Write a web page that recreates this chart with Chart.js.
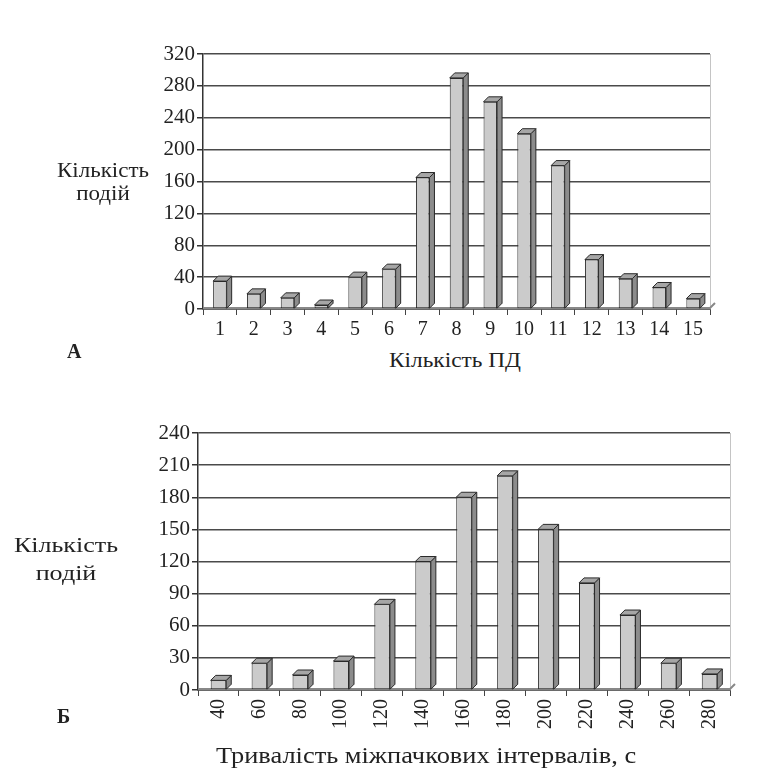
<!DOCTYPE html>
<html>
<head>
<meta charset="utf-8">
<script src="https://cdn.jsdelivr.net/npm/chart.js@4/dist/chart.umd.min.js"></script>
<style>
  html, body { margin: 0; padding: 0; background: #fff; }
  body { width: 766px; height: 775px; position: relative; overflow: hidden;
         font-family: "Liberation Serif", "DejaVu Serif", serif; color: #222; }
  .wrap { position: absolute; left: 0; width: 766px; }
  .lbl { position: absolute; white-space: nowrap; }
  .ytitle { text-align: center; }
  .letter { font-weight: bold; font-size: 20px; line-height: 20px; }
  .xtitle { text-align: center; }
</style>
</head>
<body>
<div class="wrap" style="top:0;height:345px;"><canvas id="chartA"></canvas></div>
<div class="wrap" style="top:380px;height:395px;"><canvas id="chartB"></canvas></div>

<div class="lbl ytitle" style="left:43px;top:159px;width:120px;font-size:20px;line-height:23px;transform:scaleX(1.15);">Кількість<br>подій</div>
<div class="lbl letter" style="left:67px;top:341px;">А</div>
<div class="lbl xtitle" style="left:355px;top:350px;width:200px;font-size:21px;line-height:21px;transform:scaleX(1.11);">Кількість ПД</div>

<div class="lbl ytitle" style="left:6px;top:531px;width:120px;font-size:21px;line-height:28px;transform:scaleX(1.24);">Кількість<br>подій</div>
<div class="lbl letter" style="left:57px;top:706px;">Б</div>
<div class="lbl xtitle" style="left:176px;top:743px;width:500px;font-size:24px;line-height:24px;transform:scaleX(1.1);">Тривалість міжпачкових інтервалів, с</div>

<script>
// Panel A: number of events by number of action potentials
const spikeCounts = ['1','2','3','4','5','6','7','8','9','10','11','12','13','14','15'];
const eventsA = [35, 19, 14, 5, 40, 50, 165, 290, 260, 220, 180, 62, 38, 27, 13];
const ticksA = [0, 40, 80, 120, 160, 200, 240, 280, 320];

// Panel B: number of events by inter-burst interval duration, s
const intervals = ['40','60','80','100','120','140','160','180','200','220','240','260','280'];
const eventsB = [9, 25, 14, 27, 80, 120, 180, 200, 150, 100, 70, 25, 15];
const ticksB = [0, 30, 60, 90, 120, 150, 180, 210, 240];

const FONT = '"Liberation Serif", "DejaVu Serif", serif';
const DEPTH = 5;

// Adds the side and top faces to each bar so the columns look like boxes
const boxFaces = {
  id: 'boxFaces',
  beforeDatasetsDraw(chart) {
    const { ctx, chartArea } = chart;
    ctx.save();
    ctx.strokeStyle = '#c4c4c4';
    ctx.lineWidth = 1;
    ctx.beginPath();
    ctx.moveTo(chartArea.right + 0.5, chartArea.top);
    ctx.lineTo(chartArea.right + 0.5, chartArea.bottom);
    ctx.stroke();
    // floor edge
    ctx.strokeStyle = '#888';
    ctx.lineWidth = 2;
    ctx.beginPath();
    ctx.moveTo(chartArea.left, chartArea.bottom - 1);
    ctx.lineTo(chartArea.right, chartArea.bottom - 1);
    ctx.lineTo(chartArea.right + DEPTH, chartArea.bottom - DEPTH - 1);
    ctx.stroke();
    ctx.restore();
  },
  afterDatasetsDraw(chart) {
    const { ctx } = chart;
    const meta = chart.getDatasetMeta(0);
    ctx.save();
    ctx.lineWidth = 1;
    ctx.strokeStyle = '#2a2a2a';
    ctx.lineJoin = 'round';
    meta.data.forEach(bar => {
      const p = bar.getProps(['x', 'y', 'base', 'width'], true);
      const l = p.x - p.width / 2, r = p.x + p.width / 2;
      const t = p.y, b = p.base;
      // side face
      ctx.fillStyle = '#8c8c8c';
      ctx.beginPath();
      ctx.moveTo(r, t);
      ctx.lineTo(r + DEPTH, t - DEPTH);
      ctx.lineTo(r + DEPTH, b - DEPTH);
      ctx.lineTo(r, b);
      ctx.closePath();
      ctx.fill(); ctx.stroke();
      // top face
      ctx.fillStyle = '#a6a6a6';
      ctx.beginPath();
      ctx.moveTo(l, t);
      ctx.lineTo(l + DEPTH, t - DEPTH);
      ctx.lineTo(r + DEPTH, t - DEPTH);
      ctx.lineTo(r, t);
      ctx.closePath();
      ctx.fill(); ctx.stroke();
    });
    ctx.restore();
  }
};

function makeChart(id, labels, values, ticks, opt) {
  return new Chart(document.getElementById(id), {
    type: 'bar',
    data: {
      labels: labels,
      datasets: [{
        data: values,
        backgroundColor: '#cbcbcb',
        borderColor: '#2a2a2a',
        borderWidth: 1,
        borderSkipped: false,
        barPercentage: opt.barPct,
        categoryPercentage: 1
      }]
    },
    options: {
      responsive: true,
      maintainAspectRatio: false,
      animation: false,
      layout: { padding: { top: opt.top, right: opt.right, left: 0, bottom: 0 } },
      plugins: { legend: { display: false }, tooltip: { enabled: false } },
      scales: {
        x: {
          offset: true,
          grid: { offset: true, drawOnChartArea: false, drawTicks: true, tickLength: 6,
                  color: '#444', lineWidth: 1 },
          border: { color: '#333', width: 1.5 },
          ticks: { color: '#222', font: { family: FONT, size: opt.xFont },
                   minRotation: opt.rot, maxRotation: opt.rot, padding: 3, autoSkip: false },
          afterFit(s) { s.height = opt.xHeight; }
        },
        y: {
          min: ticks[0], max: ticks[ticks.length - 1],
          afterBuildTicks(s) { s.ticks = ticks.map(v => ({ value: v })); },
          grid: { color: '#4a4a4a', lineWidth: 1.5, tickLength: 6, tickColor: '#333' },
          border: { color: '#333', width: 1.5 },
          ticks: { color: '#222', font: { family: FONT, size: 21 }, padding: 2 },
          afterFit(s) { s.width = opt.yWidth; }
        }
      }
    },
    plugins: [boxFaces]
  });
}

makeChart('chartA', spikeCounts, eventsA, ticksA,
  { top: 54, right: 56, yWidth: 203, xHeight: 36, xFont: 20, rot: 0, barPct: 0.4 });
makeChart('chartB', intervals, eventsB, ticksB,
  { top: 53, right: 36, yWidth: 198, xHeight: 85, xFont: 20, rot: 90, barPct: 0.38 });
</script>
</body>
</html>
